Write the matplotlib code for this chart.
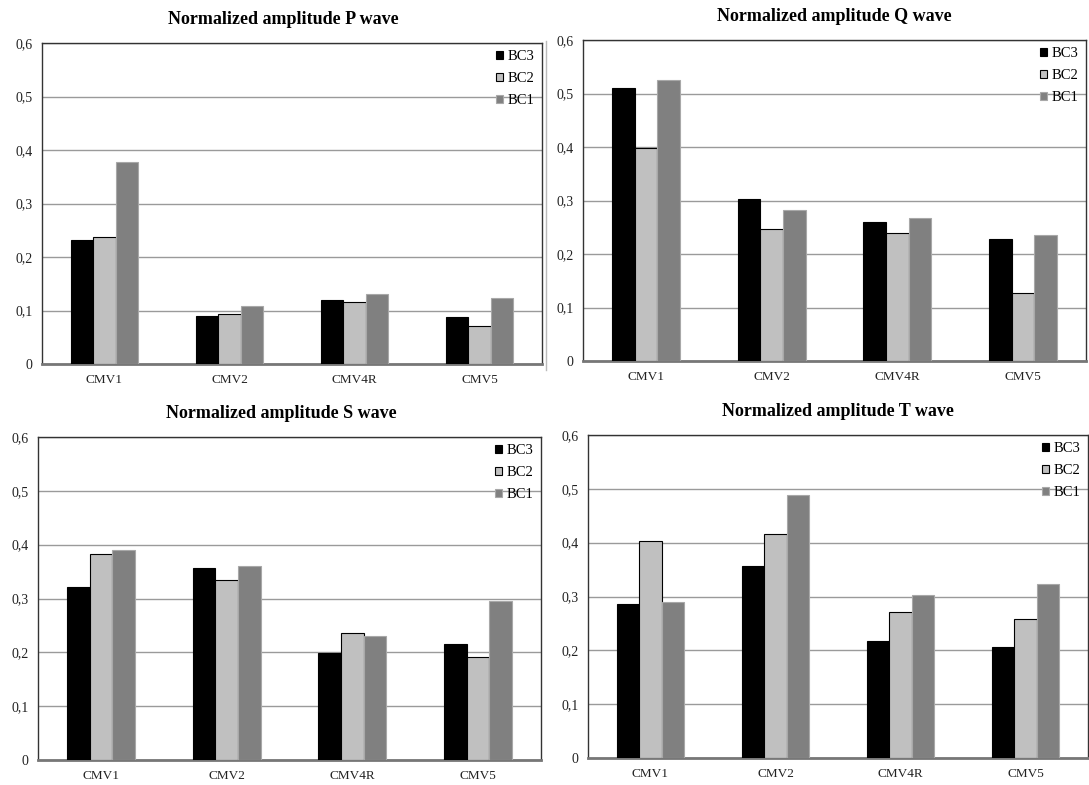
import numpy as np
import matplotlib
matplotlib.use("Agg")
import matplotlib.pyplot as plt
from matplotlib.lines import Line2D
from matplotlib.ticker import FuncFormatter

plt.rcParams['font.family'] = ['Liberation Serif', 'DejaVu Serif']

leads = ['CMV1', 'CMV2', 'CMV4R', 'CMV5']
series = ['BC3', 'BC2', 'BC1']

# normalized amplitudes per wave, one list per series (BC3, BC2, BC1)
p_bc3 = [0.232, 0.089, 0.120, 0.088]
p_bc2 = [0.237, 0.093, 0.115, 0.071]
p_bc1 = [0.377, 0.109, 0.130, 0.123]

q_bc3 = [0.511, 0.302, 0.259, 0.228]
q_bc2 = [0.399, 0.246, 0.239, 0.127]
q_bc1 = [0.526, 0.282, 0.267, 0.236]

s_bc3 = [0.322, 0.356, 0.199, 0.216]
s_bc2 = [0.383, 0.335, 0.236, 0.192]
s_bc1 = [0.390, 0.360, 0.230, 0.295]

t_bc3 = [0.286, 0.357, 0.218, 0.206]
t_bc2 = [0.404, 0.417, 0.272, 0.259]
t_bc1 = [0.290, 0.488, 0.302, 0.323]

yticks = [0, 0.1, 0.2, 0.3, 0.4, 0.5, 0.6]

fills = ['#000000', '#c0c0c0', '#808080']
edges = ['#000000', '#000000', '#a8a8a8']

W, H = 1089, 785
fig = plt.figure(figsize=(W / 100, H / 100), dpi=100)


def box(left, top, right, bottom):
    return [left / W, 1 - bottom / H, (right - left) / W, (bottom - top) / H]


# title, values, axes box in pixels, horizontal title shift in pixels
panels = [
    ('Normalized amplitude P wave', [p_bc3, p_bc2, p_bc1], box(42, 43, 542, 364), -9),
    ('Normalized amplitude Q wave', [q_bc3, q_bc2, q_bc1], box(583, 40, 1086, 361), 0),
    ('Normalized amplitude S wave', [s_bc3, s_bc2, s_bc1], box(38, 437, 541, 760), -8),
    ('Normalized amplitude T wave', [t_bc3, t_bc2, t_bc1], box(588, 435, 1088, 758), 0),
]

x = np.arange(len(leads))
bw = 0.18

for title, vals, rect, shift in panels:
    ax = fig.add_axes(rect)
    for i, (name, v) in enumerate(zip(series, vals)):
        ax.bar(x + (i - 1) * bw, v, bw, color=fills[i], edgecolor=edges[i],
               linewidth=0.8, label=name, zorder=3)
    ax.set_xlim(-0.5, len(leads) - 0.5)
    ax.set_ylim(0, 0.6)
    ax.set_yticks(yticks)
    ax.yaxis.set_major_formatter(FuncFormatter(
        lambda v, _: '0' if v == 0 else ('%.1f' % v).replace('.', ',')))
    ax.set_xticks(x)
    ax.set_xticklabels(leads)
    ax.tick_params(length=0, colors='#222222')
    ax.tick_params(axis='x', labelsize=9.5, pad=7)
    ax.tick_params(axis='y', labelsize=10, pad=7)
    ax.grid(axis='y', color='#9a9a9a', linewidth=1.0, zorder=0)
    for s in ['top', 'left', 'right']:
        ax.spines[s].set_color('#333333')
        ax.spines[s].set_linewidth(1.0)
    ax.spines['bottom'].set_color('#777777')
    ax.spines['bottom'].set_linewidth(2.0)
    ax.set_title(title, fontsize=13, fontweight='bold', pad=14,
                 x=0.5 + shift / (rect[2] * W))
    ax.legend(loc='upper right', frameon=False, fontsize=10.5, handlelength=0.5,
              handleheight=0.5, handletextpad=0.3, labelspacing=0.62,
              borderaxespad=0.1)

# faint border line left of the Q chart
fig.add_artist(Line2D([546 / W, 546 / W], [1 - 370 / H, 1 - 41 / H],
                      color='#bbbbbb', linewidth=1.0))

fig.savefig('out.png', dpi=100)
